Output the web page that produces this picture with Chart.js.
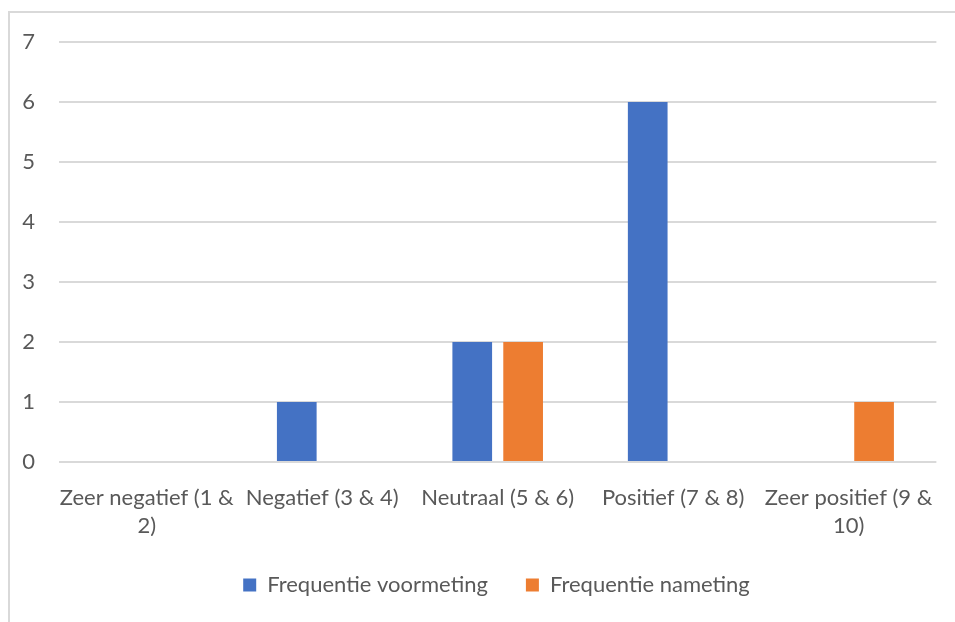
<!DOCTYPE html>
<html><head><meta charset="utf-8">
<script src="https://cdn.jsdelivr.net/npm/chart.js@4.4.0/dist/chart.umd.min.js"></script>
<style>
html,body{margin:0;padding:0;background:#fff;}
#wrap{position:relative;width:955px;height:622px;overflow:hidden;}
#frame{position:absolute;left:8px;top:11px;width:980px;height:640px;border:2px solid #d9d9d9;box-sizing:border-box;}
canvas{position:absolute;left:0;top:0;}
</style></head>
<body>
<div id="wrap"><div id="frame"></div><canvas id="c" width="955" height="622"></canvas></div>
<script>
const categories = [["Zeer negatief (1 &","2)"],"Negatief (3 & 4)","Neutraal (5 & 6)","Positief (7 & 8)",["Zeer positief (9 &","10)"]];
const voormeting = [0,1,2,6,0];
const nameting = [0,0,2,0,1];
const seriesNames = ["Frequentie voormeting","Frequentie nameting"];
const yTicks = [0,1,2,3,4,5,6,7];

const FONT = "Lato, 'Open Sans', sans-serif";
const legendShift = {
  id:'legendShift',
  afterLayout(chart){ if(chart.legend){ chart.legend.left += 22; chart.legend.right += 22; } }
};
new Chart(document.getElementById('c'), {
  type:'bar',
  data:{labels:categories, datasets:[
    {label:seriesNames[0], data:voormeting, backgroundColor:'#4472c4', barPercentage:0.78, categoryPercentage:0.58},
    {label:seriesNames[1], data:nameting, backgroundColor:'#ed7d31', barPercentage:0.78, categoryPercentage:0.58}
  ]},
  plugins:[legendShift],
  options:{
    responsive:false, animation:false,
    layout:{padding:{left:0,right:6,top:42,bottom:16}},
    plugins:{
      legend:{position:'bottom', labels:{font:{family:FONT,size:22},color:'#595959',boxWidth:13,boxHeight:13,padding:38}},
      tooltip:{enabled:false}
    },
    scales:{
      x:{grid:{display:false,drawTicks:false},border:{display:false},
         afterFit:(s)=>{s.height=74;},
         ticks:{font:{family:FONT,size:22,lineHeight:1.27},color:'#595959',maxRotation:0,autoSkip:false,padding:22}},
      y:{min:0,max:7,afterBuildTicks:(ax)=>{ax.ticks=yTicks.map(v=>({value:v}));},
         afterFit:(s)=>{s.width=59;},
         grid:{color:'#d9d9d9',lineWidth:2,drawTicks:false},border:{display:false},
         ticks:{font:{family:FONT,size:22},color:'#595959',padding:24}}
    }
  }
});
</script>
</body></html>
